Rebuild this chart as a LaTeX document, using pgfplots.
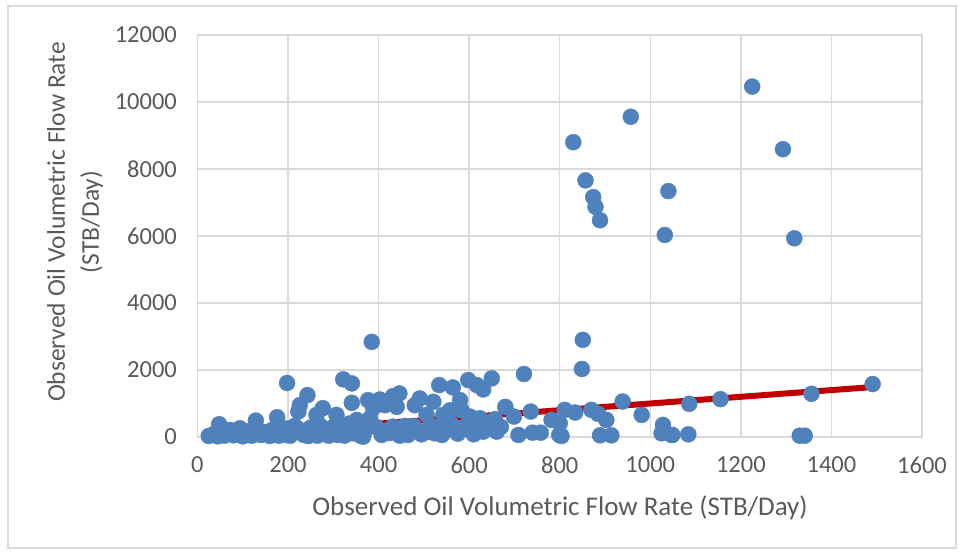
\documentclass[border=0pt]{standalone}
\usepackage{pgfplots}
\pgfplotsset{compat=1.18}
\usepackage{pgfplotstable}
\usepackage{fontspec}
\setmainfont{Carlito}
\definecolor{gridc}{HTML}{D9D9D9}
\definecolor{txt}{HTML}{595959}
\definecolor{ptblue}{HTML}{4F81BD}
\definecolor{trend}{HTML}{C00000}

\pgfplotstableread{
x y
25 30
35 80
45 20
48 380
55 150
60 40
70 100
72 210
80 50
90 130
94 260
100 20
105 180
110 70
120 40
125 120
129 490
130 230
140 60
150 150
160 30
165 210
170 90
176 590
180 40
185 300
190 160
195 60
198 1610
200 250
205 40
210 120
215 330
223 760
226 950
230 200
235 60
243 1250
245 30
250 280
255 150
263 660
265 40
270 350
277 860
280 100
285 220
290 40
295 160
300 300
307 660
310 60
315 200
322 1720
325 40
330 120
335 400
341 1600
341 1020
344 110
350 260
352 510
360 40
366 10
370 180
377 1100
381 560
385 2840
388 860
395 300
403 1120
407 60
414 950
420 200
425 120
432 1220
432 310
440 900
446 1300
447 40
455 150
458 330
465 60
477 330
480 950
485 200
491 1150
495 80
506 660
510 150
515 350
521 1050
524 110
530 250
534 1550
540 60
543 660
550 210
558 800
560 400
564 1480
572 210
575 100
580 1100
583 800
590 300
598 1700
602 610
602 210
610 80
617 1550
624 560
631 1420
631 160
640 400
650 1750
657 530
661 160
670 300
680 900
699 610
709 60
721 1880
736 760
740 130
758 130
782 510
799 60
800 410
804 30
811 810
830 8800
834 730
849 2030
851 2900
857 7660
870 810
874 7160
879 6870
885 690
889 6470
889 50
903 510
914 50
939 1060
957 9560
981 660
1025 110
1028 360
1032 6030
1040 7340
1047 60
1049 60
1084 80
1086 990
1155 1130
1225 10460
1293 8590
1318 5930
1330 40
1341 40
1356 1290
1491 1580
}\pts

\begin{document}
\begin{tikzpicture}[x=1pt,y=1pt]
\useasboundingbox (0,0) rectangle (964,554);
\draw[gridc, line width=1.2pt] (8,6) rectangle (956,548);
\begin{axis}[
  at={(197.4pt,117pt)}, anchor=south west,
  width=724.6pt, height=402pt, scale only axis,
  xmin=0, xmax=1600, ymin=0, ymax=12000,
  xtick={0,200,...,1600}, ytick={0,2000,...,12000},
  grid=major, major grid style={gridc, line width=1.3pt},
  axis line style={gridc, line width=1.3pt},
  tick style={draw=none},
  /pgf/number format/assume math mode=true,
  scaled ticks=false, /pgf/number format/1000 sep={},
  tick label style={font=\fontsize{24.5}{28}\selectfont, text=txt},
  xticklabel style={yshift=-16pt},
  yticklabel style={xshift=-17pt},
  clip=false,
]
\addplot[trend, line width=6pt] coordinates {(25,25) (1490,1490)};
\addplot[only marks, mark=*, mark size=8pt, mark options={fill=ptblue, draw=ptblue}] table[x=x,y=y] {\pts};
\end{axis}
\node[text=txt, font=\fontsize{25.5}{34}\selectfont, rotate=90, align=center] at (75,332) {Observed Oil Volumetric Flow Rate\\(STB/Day)};
\node[text=txt, font=\fontsize{27}{30}\selectfont] at (560,46) {Observed Oil Volumetric Flow Rate (STB/Day)};
\end{tikzpicture}
\end{document}
